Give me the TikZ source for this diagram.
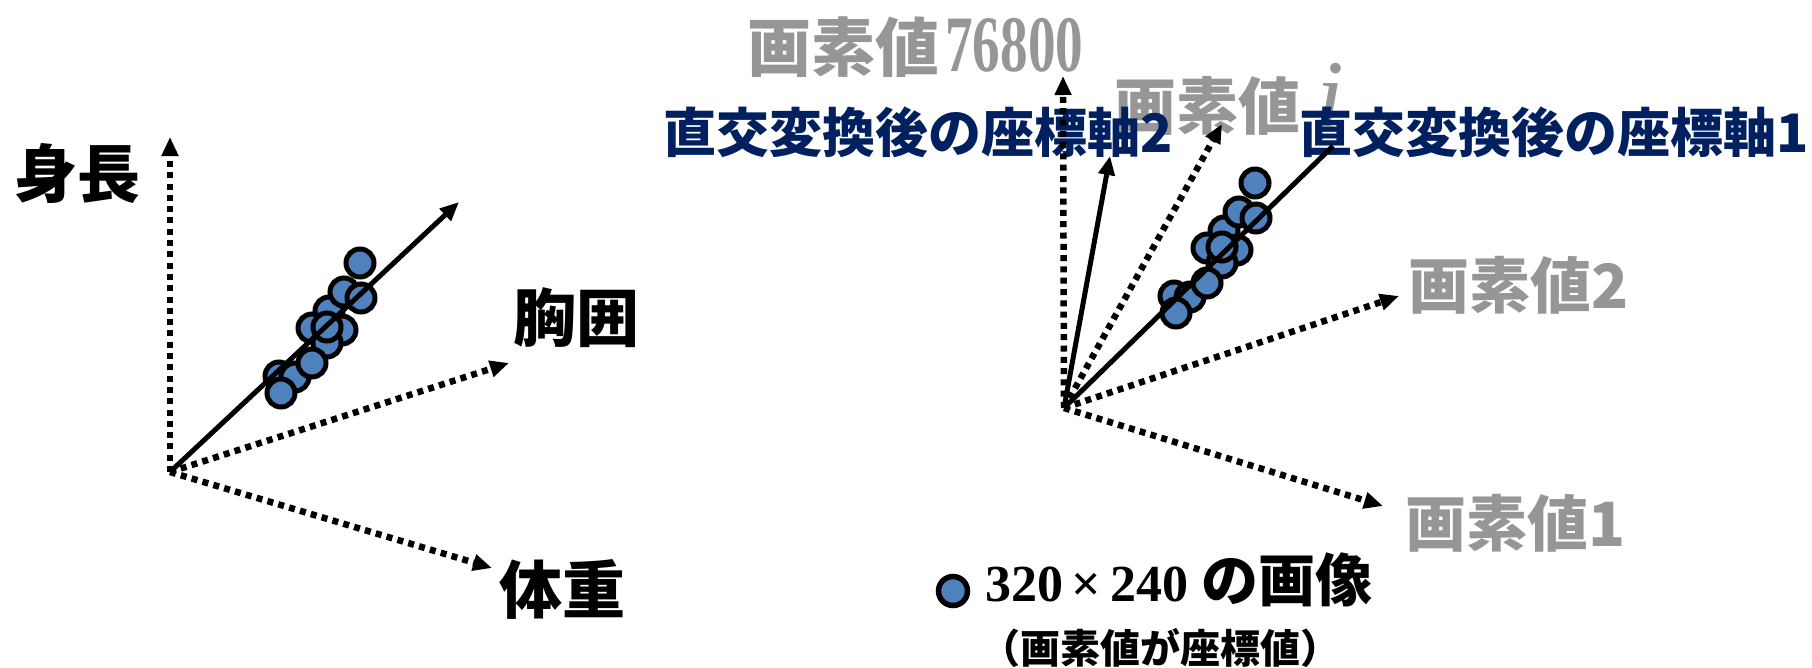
\documentclass[tikz,border=0pt]{standalone}
\usepackage{fontspec}
\usepackage{graphicx}
\usetikzlibrary{arrows.meta}
\newfontfamily\cjk{Noto Sans CJK JP}
\newfontfamily\tnr{Liberation Serif}
\newcommand\fsz[1]{\fontsize{#1}{#1}\selectfont}
\definecolor{ptblue}{HTML}{4F81BD}
\definecolor{navy}{HTML}{002060}
\definecolor{pxgray}{HTML}{969696}
\tikzset{
  tip/.tip={Triangle[length=19pt,width=16pt]},
  dotax/.style={line width=6.5pt, dash pattern=on 6pt off 5.3pt, -tip},
  solax/.style={line width=5pt, -tip},
  solline/.style={line width=5pt},
  datapt/.style={circle, draw=black, line width=5pt, fill=ptblue, minimum size=28pt, inner sep=0pt},
  lblk/.style={inner sep=0pt, text=black, font=\cjk\bfseries\fsz{63}},
  lnavy/.style={inner sep=0pt, text=navy, font=\cjk\bfseries\fsz{53}},
  lgray/.style={inner sep=0pt, text=pxgray, font=\cjk\bfseries\fsz{61}},
}
\begin{document}
\begin{tikzpicture}[x=1pt,y=-1pt]
\fill[white] (0,0) rectangle (1812,667);
\useasboundingbox (0,0) rectangle (1812,667);

% ---------- left diagram ----------
\coordinate (O1) at (170,472);
\coordinate (h1) at (170,137);
\coordinate (c1) at (509,363);
\coordinate (w1) at (492,568);
\coordinate (s1) at (459,202);

\node[lblk] (shincho) at (77,173) {身長};
\node[lblk] (kyoui) at (576,318) {胸囲};
\node[lblk] (taiju) at (562,589) {体重};

\draw[dotax] (O1) -- (h1);
\draw[dotax] (O1) -- (c1);
\draw[dotax] (O1) -- (w1);

\foreach \dx/\dy [count=\k] in {-31/48,-48/65,-18/67,-33/80,-16/29,-81/113,-65/114,-33/64,1/35,-48/100,-79/130,0/0}
  \node[datapt] (L\k) at (360+\dx,263+\dy) {};

\draw[solax] (O1) -- (s1);

% ---------- right diagram ----------
\coordinate (O2) at (1064,408);
\coordinate (v2) at (1063,76);
\coordinate (a2) at (1110,156);
\coordinate (i2) at (1222,124);
\coordinate (p2) at (1399,296);
\coordinate (p1) at (1383,506);
\coordinate (m2) at (1333,146);

\node[inner sep=0pt, text=pxgray, anchor=base west] (px76800) at (747,71)
  {{\cjk\bfseries\fsz{64}画素値}\hspace{6pt}{\tnr\bfseries\fsz{80}\scalebox{0.69}[1]{76800}}};
\node[inner sep=0pt, text=pxgray, anchor=base west] (pxi) at (1114,129)
  {{\cjk\bfseries\fsz{62}画素値}\hspace{16pt}{\tnr\itshape\fsz{100}i}};
\node[lnavy] (ax2) at (918,132) {直交変換後の座標軸2};
\node[lnavy] (ax1) at (1554,132) {直交変換後の座標軸1};
\node[lgray] (px2) at (1519,285) {画素値2};
\node[lgray] (px1) at (1516,523) {画素値1};

\foreach \dx/\dy [count=\k] in {-31/48,-48/65,-18/67,-33/80,-16/29,-81/113,-65/114,-33/64,1/35,-48/100,-79/130,0/0}
  \node[datapt] (R\k) at (1255+\dx,183+\dy) {};

\draw[dotax] (O2) -- (v2);
\draw[dotax] (O2) -- (i2);
\draw[dotax] (O2) -- (p2);
\draw[dotax] (O2) -- (p1);
\draw[solax] (O2) -- (a2);
\draw[solline] (O2) -- (m2);

% ---------- legend ----------
\node[circle, draw=black, line width=5.5pt, fill=ptblue, minimum size=29pt, inner sep=0pt] (lgpt) at (953,591) {};
\node[inner sep=0pt, anchor=base west] (lgtxt) at (985,601)
  {{\tnr\bfseries\fsz{52}320\,×\,240 }{\cjk\bfseries\fsz{57}の画像}};
\node[inner sep=0pt, font=\cjk\bfseries\fsz{40}] (lgsub) at (1160,648) {（画素値が座標値）};
\end{tikzpicture}
\end{document}
